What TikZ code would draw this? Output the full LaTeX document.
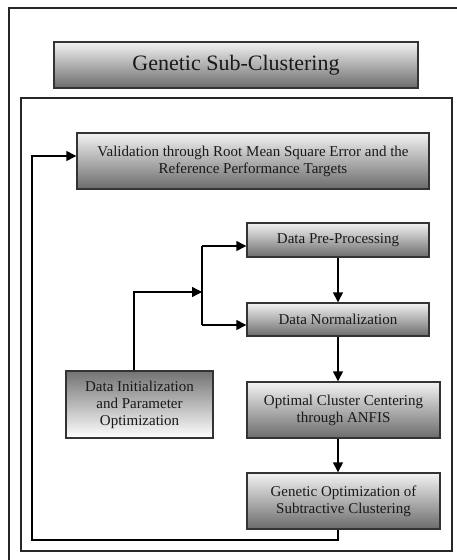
\documentclass[tikz,border=0pt]{standalone}
\usepackage{fontspec}
\setmainfont{Liberation Serif}
\usetikzlibrary{arrows.meta}
\begin{document}
\begin{tikzpicture}[x=1pt,y=-1pt,
  frame/.style={draw=black!85,line width=1.3pt},
  boxdown/.style={draw=black!80,line width=1.4pt,top color=black!5,bottom color=black!58,
    inner sep=0pt,align=center,text=black!90,font=\fontsize{15}{17}\selectfont},
  boxup/.style={boxdown,top color=black!55,bottom color=white},
  link/.style={draw=black,line width=1.4pt},
  flow/.style={link,-{Triangle[length=10pt,width=10pt]}}]
\useasboundingbox (0,0) rectangle (457,560);
\fill[white] (0,0) rectangle (457,560);

% frames
\draw[frame] (9,560) -- (9,8) -- (457,8);
\draw[frame] (21,98) rectangle (452,551);

% title
\node[boxdown,minimum width=364pt,minimum height=46pt,font=\fontsize{22}{24}\selectfont]
  (title) at (236,65) {Genetic Sub-Clustering};

% process boxes
\node[boxdown,minimum width=352pt,minimum height=56pt] (valid) at (253,161)
  {Validation through Root Mean Square Error and the\\Reference Performance Targets};
\node[boxdown,minimum width=182pt,minimum height=34pt] (pre) at (338,240) {Data Pre-Processing};
\node[boxdown,minimum width=182pt,minimum height=33pt] (norm) at (338,319.5) {Data Normalization};
\node[boxdown,minimum width=193pt,minimum height=56pt] (opt) at (343.5,410)
  {Optimal Cluster Centering\\through ANFIS};
\node[boxdown,minimum width=193pt,minimum height=56pt] (gen) at (343.5,501)
  {Genetic Optimization of\\Subtractive Clustering};
\node[boxup,minimum width=147pt,minimum height=67pt] (init) at (139.5,404.5)
  {Data Initialization\\and Parameter\\Optimization};

% split point feeding the two preparation steps
\coordinate (split) at (202,292);
\coordinate (initout) at (134,0);
\draw[flow] (initout |- init.north) -- (134,292) -- (split);
\draw[link] (202,246) -- (202,325);
\draw[flow] (202,246) -- (pre.west |- 0,246);
\draw[flow] (202,325) -- (norm.west |- 0,325);

% main chain
\draw[flow] (pre.south) -- (pre.south |- norm.north);
\draw[flow] (norm.south) -- (norm.south |- opt.north);
\draw[flow] (338,0 |- opt.south) -- (338,0 |- gen.north);

% feedback loop to validation
\coordinate (fb1) at (338,540);
\coordinate (fb2) at (32,540);
\coordinate (fb3) at (32,156);
\draw[flow] (338,0 |- gen.south) -- (fb1) -- (fb2) -- (fb3) -- (valid.west |- fb3);
\end{tikzpicture}
\end{document}
